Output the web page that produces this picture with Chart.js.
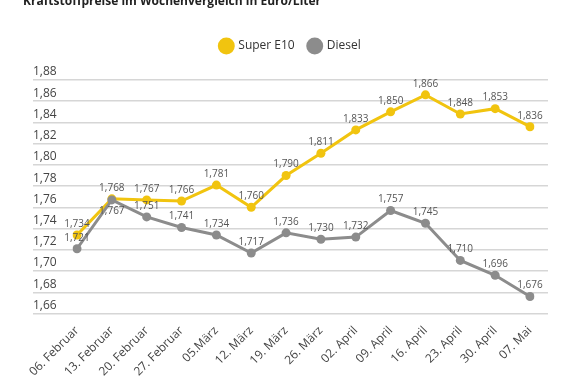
<!DOCTYPE html>
<html>
<head>
<meta charset="utf-8">
<script src="https://cdn.jsdelivr.net/npm/chart.js@4"></script>
<style>
  body { margin: 0; background: #fff; }
  #wrap { width: 580px; height: 387px; position: relative; }
</style>
</head>
<body>
<div id="wrap"><canvas id="canvas"></canvas></div>
<script>
var weeks = ['06. Februar', '13. Februar', '20. Februar', '27. Februar', '05.März', '12. März', '19. März',
    '26. März', '02. April', '09. April', '16. April', '23. April', '30. April', '07. Mai'];
var superE10 = [1.734, 1.768, 1.767, 1.766, 1.781, 1.760, 1.790, 1.811, 1.833, 1.850, 1.866, 1.848, 1.853, 1.836];
var diesel = [1.721, 1.767, 1.751, 1.741, 1.734, 1.717, 1.736, 1.730, 1.732, 1.757, 1.745, 1.710, 1.696, 1.676];
var yMin = 1.66, yMax = 1.88, yStep = 0.02;
var chartTitle = 'Kraftstoffpreise im Wochenvergleich in Euro/Liter';

function komma(v, d) { return v.toFixed(d).replace('.', ','); }

// draws the value over each point (one label goes under, where two points meet)
var valueLabels = {
    id: 'valueLabels',
    afterDatasetsDraw: function(chart) {
        var ctx = chart.ctx;
        ctx.save();
        ctx.font = '10px "Open Sans"';
        ctx.fillStyle = '#555';
        ctx.textAlign = 'center';
        ctx.textBaseline = 'middle';
        chart.data.datasets.forEach(function(ds, di) {
            var meta = chart.getDatasetMeta(di);
            meta.data.forEach(function(pt, i) {
                var below = (di === 1 && i === 1);
                ctx.fillText(komma(ds.data[i], 3), pt.x, below ? pt.y + 11 : pt.y - 11);
            });
        });
        ctx.restore();
    }
};

var cutTitle = {
    id: 'cutTitle',
    beforeDraw: function(chart) {
        var ctx = chart.ctx;
        ctx.save();
        ctx.font = 'bold 12px "Open Sans"';
        ctx.fillStyle = '#222';
        ctx.textAlign = 'left';
        ctx.textBaseline = 'alphabetic';
        ctx.fillText(chartTitle, 23, 5);
        ctx.restore();
    }
};

// more room between legend and plot
var legendGap = {
    id: 'legendGap',
    beforeInit: function(chart) {
        var fit = chart.legend.fit;
        chart.legend.fit = function() {
            fit.bind(chart.legend)();
            this.height += 18;
        };
    }
};

try {
    var ctx = document.getElementById('canvas').getContext('2d');
    var myChart = new Chart(ctx, {
        type: 'line',
        data: {
            labels: weeks,
            datasets: [{
                label: 'Super E10',
                data: superE10,
                borderColor: '#f1c40f',
                backgroundColor: '#f1c40f',
                borderWidth: 3,
                pointRadius: 4.5,
                pointBorderWidth: 0,
                tension: 0,
                order: 1
            }, {
                label: 'Diesel',
                data: diesel,
                borderColor: '#8c8c8c',
                backgroundColor: '#8c8c8c',
                borderWidth: 3,
                pointRadius: 4.5,
                pointBorderWidth: 0,
                tension: 0,
                order: 0
            }]
        },
        options: {
            responsive: true,
            maintainAspectRatio: false,
            animation: false,
            layout: { padding: { left: 33, right: 32, top: 26, bottom: 6 } },
            plugins: {
                tooltip: { enabled: false },
                legend: {
                    position: 'top',
                    labels: {
                        usePointStyle: true,
                        pointStyle: 'circle',
                        boxWidth: 13,
                        boxHeight: 13,
                        padding: 14,
                        color: '#333',
                        font: { family: 'Open Sans', size: 12 },
                        sort: function(a, b) { return a.datasetIndex - b.datasetIndex; }
                    }
                }
            },
            scales: {
                x: {
                    grid: { display: false },
                    border: { display: false },
                    ticks: {
                        color: '#444',
                        font: { family: 'Open Sans', size: 12 },
                        maxRotation: 45,
                        minRotation: 45,
                        padding: 2,
                        autoSkip: false
                    }
                },
                y: {
                    position: 'left',
                    min: yMin,
                    max: yMax,
                    border: { display: false },
                    grid: { color: '#d6d6d6', lineWidth: 1.5, tickLength: 44 },
                    afterFit: function(scale) { scale.width = 44; },
                    ticks: {
                        stepSize: yStep,
                        crossAlign: 'far',
                        labelOffset: -8,
                        color: '#444',
                        font: { family: 'Open Sans', size: 12 },
                        callback: function(v) { return komma(v, 2); }
                    }
                },
                yRight: {
                    position: 'right',
                    min: yMin,
                    max: yMax,
                    border: { display: false },
                    grid: { color: '#d6d6d6', lineWidth: 1.5, tickLength: 18, drawOnChartArea: false },
                    afterFit: function(scale) { scale.width = 18; },
                    ticks: { stepSize: yStep, display: false }
                }
            }
        },
        plugins: [valueLabels, cutTitle, legendGap]
    });
} catch (e) {
    console.log(e.message);
}
</script>
</body>
</html>
